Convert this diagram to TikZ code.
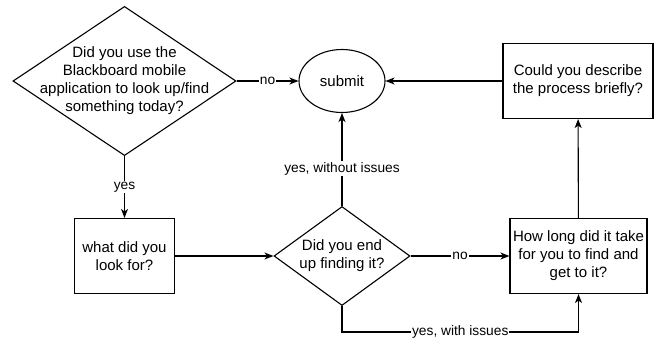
\documentclass[tikz,border=0pt]{standalone}
\usepackage{fontspec}
\setmainfont{Liberation Sans}
\usetikzlibrary{shapes.geometric, arrows.meta, positioning}

\begin{document}
\begin{tikzpicture}
  [
    x=1pt, y=-1pt,
    Box/.style={rectangle, draw=black, line width=1.1pt, align=center, inner sep=0pt, minimum height=75pt, font=\fontsize{15}{18}\selectfont},
    Decision/.style={diamond, draw=black, line width=1.1pt, align=center, inner sep=-22pt, font=\fontsize{15}{18}\selectfont},
    Oval/.style={ellipse, draw=black, line width=1.1pt, minimum width=86pt, minimum height=63pt, inner sep=0pt, font=\fontsize{15}{18}\selectfont},
    Label/.style={fill=white, inner sep=1pt, font=\fontsize{13.75}{16}\selectfont},
    Arrow/.style={-{Stealth[length=9pt, width=7pt, inset=2.5pt]}, draw, line width=1.1pt}
  ]
  \useasboundingbox (0,0) rectangle (655,340);
  % Nodes
  \node[Decision, minimum width=223pt, minimum height=148pt] (used) at (124.5,81)
    {Did you use the\\Blackboard mobile\\application to look up/find\\something today?};
  \node[Oval] (submit) at (342,81) {submit};
  \node[Box, minimum width=150pt] (describe) at (578,81) {Could you describe\\the process briefly?};
  \node[Box, minimum width=100pt] (lookfor) at (124.5,256) {what did you\\look for?};
  \node[Decision, minimum width=136pt, minimum height=99pt, inner sep=-12pt] (found) at (342,256)
    {Did you end\\up finding it?};
  \node[Box, minimum width=137pt] (howlong) at (578.5,256) {How long did it take\\for you to find and\\get to it?};
  \coordinate (turn) at (342,332);
  % Lines
  \path [Arrow] (used) -- node[Label] {no} (submit);
  \path [Arrow] (used) -- node[Label] {yes} (lookfor);
  \path [Arrow] (describe) -- (submit);
  \path [Arrow] (lookfor) -- (found.west);
  \path [Arrow] (found) -- node[Label, pos=0.4] {yes, without issues} (submit);
  \path [Arrow] (found) -- node[Label] {no} (howlong);
  \path [Arrow] (howlong) -- (describe);
  \path [Arrow] (found.south) -- (turn) -| node[Label, pos=0.25] {yes, with issues} (howlong.south);
\end{tikzpicture}
\end{document}
